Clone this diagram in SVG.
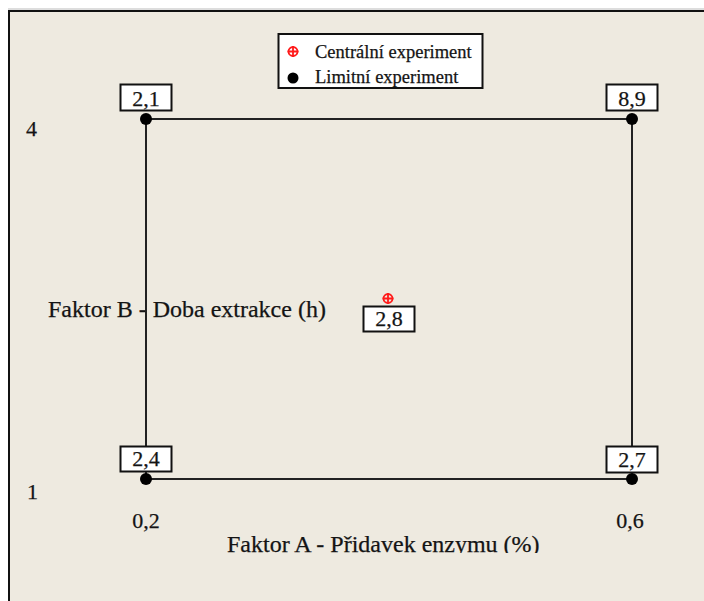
<svg xmlns="http://www.w3.org/2000/svg" width="704" height="601" viewBox="0 0 704 601">
<style>
text{font-family:'Liberation Serif',serif;fill:#141414;stroke:#141414;stroke-width:0.25}
.lab{font-size:22px;text-anchor:middle}
.ax{font-size:24px}
.tick{font-size:22px}
.leg{font-size:18.5px}
.box{fill:#ffffff;stroke:#111;stroke-width:2}
.dot{fill:#000}
.edge{stroke:#222;stroke-width:2;fill:none}
.cm{fill:none;stroke:#ff1a1a;stroke-width:1.8}
</style>
<defs>
<clipPath id="clipA"><rect x="0" y="0" width="704" height="553"/></clipPath>
</defs>
<rect x="0" y="0" width="704" height="601" fill="#ffffff"/>
<rect x="8" y="10" width="700" height="595" fill="#EEEAE0"/>
<line x1="8" y1="9" x2="704" y2="9" stroke="#bbb" stroke-width="1"/>
<line x1="8" y1="11" x2="704" y2="11" stroke="#111" stroke-width="2"/>
<line x1="9" y1="10" x2="9" y2="601" stroke="#111" stroke-width="2"/>

<g id="legend">
<rect x="278.5" y="34" width="204" height="54" class="box"/>
<circle cx="293" cy="51.5" r="4.5" class="cm"/>
<path d="M287.5 51.5H298.5M293 46V57" class="cm"/>
<text x="315" y="57.5" class="leg">Centrální experiment</text>
<circle cx="293" cy="78" r="5.5" class="dot"/>
<text x="315" y="83" class="leg">Limitní experiment</text>
</g>

<g id="axis-labels">
<text x="26" y="136" class="tick">4</text>
<text x="27" y="499" class="tick">1</text>
<text x="146" y="528" class="lab">0,2</text>
<text x="630" y="528" class="lab">0,6</text>
<text x="48" y="317" class="ax">Faktor B - Doba extrakce (h)</text>
<text x="227" y="552" class="ax" clip-path="url(#clipA)">Faktor A - Přidavek enzymu (%)</text>
</g>

<g id="connectors">
<line x1="146" y1="119" x2="632" y2="119" class="edge"/>
<line x1="146" y1="479" x2="632" y2="479" class="edge"/>
<line x1="146" y1="119" x2="146" y2="479" class="edge"/>
<line x1="632" y1="119" x2="632" y2="479" class="edge"/>
</g>

<g id="node-top-left">
<circle cx="146" cy="119" r="6" class="dot"/>
<rect x="120.5" y="84.5" width="51" height="26" class="box"/>
<text x="146" y="106" class="lab">2,1</text>
</g>
<g id="node-top-right">
<circle cx="632" cy="119" r="6" class="dot"/>
<rect x="606.5" y="84.5" width="51" height="26" class="box"/>
<text x="632" y="106" class="lab">8,9</text>
</g>
<g id="node-bottom-left">
<circle cx="146" cy="479" r="6" class="dot"/>
<rect x="120.5" y="446.5" width="51" height="25" class="box"/>
<text x="146" y="466" class="lab">2,4</text>
</g>
<g id="node-bottom-right">
<circle cx="632" cy="479" r="6" class="dot"/>
<rect x="606.5" y="446.5" width="51" height="26" class="box"/>
<text x="632" y="467" class="lab">2,7</text>
</g>
<g id="node-center">
<circle cx="388" cy="298.5" r="4.5" class="cm"/>
<path d="M382.5 298.5H393.5M388 293V304" class="cm"/>
<rect x="363.5" y="306.5" width="51" height="25" class="box"/>
<text x="389" y="326" class="lab">2,8</text>
</g>
</svg>
